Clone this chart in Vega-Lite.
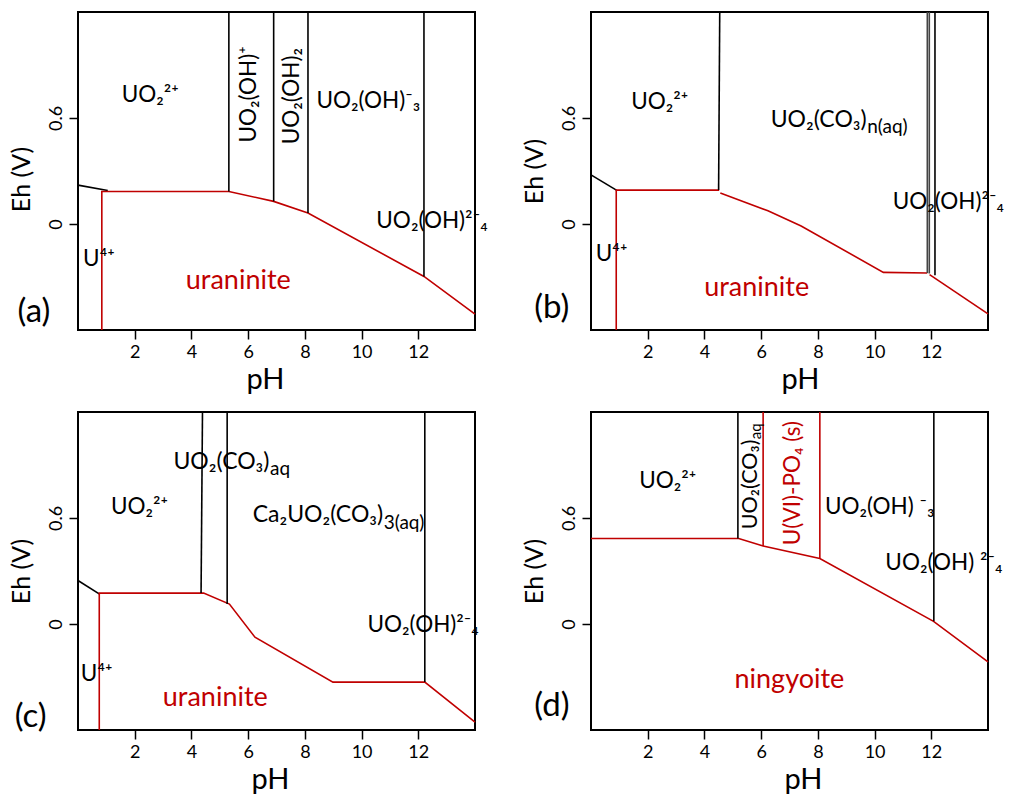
{
  "$schema": "https://vega.github.io/schema/vega-lite/v6.json",
  "background": "white",
  "padding": {"left": 8, "top": 7, "right": 0, "bottom": 0},
  "datasets": {
    "rows": [
      {"p":"a","g":"line","s":"a1","ph":"aq","i":0,"pH":0,"Eh":0.22},
      {"p":"a","g":"line","s":"a1","ph":"aq","i":1,"pH":1.05,"Eh":0.19},
      {"p":"a","g":"line","s":"a2","ph":"solid","i":0,"pH":0.84,"Eh":-0.6},
      {"p":"a","g":"line","s":"a2","ph":"solid","i":1,"pH":0.84,"Eh":0.184},
      {"p":"a","g":"line","s":"a2","ph":"solid","i":2,"pH":5.32,"Eh":0.184},
      {"p":"a","g":"line","s":"a2","ph":"solid","i":3,"pH":6.9,"Eh":0.128},
      {"p":"a","g":"line","s":"a2","ph":"solid","i":4,"pH":8.11,"Eh":0.062},
      {"p":"a","g":"line","s":"a2","ph":"solid","i":5,"pH":12.2,"Eh":-0.297},
      {"p":"a","g":"line","s":"a2","ph":"solid","i":6,"pH":14,"Eh":-0.51},
      {"p":"a","g":"line","s":"a3","ph":"aq","i":0,"pH":5.32,"Eh":0.184},
      {"p":"a","g":"line","s":"a3","ph":"aq","i":1,"pH":5.32,"Eh":1.2},
      {"p":"a","g":"line","s":"a4","ph":"aq","i":0,"pH":6.9,"Eh":0.128},
      {"p":"a","g":"line","s":"a4","ph":"aq","i":1,"pH":6.9,"Eh":1.2},
      {"p":"a","g":"line","s":"a5","ph":"aq","i":0,"pH":8.11,"Eh":0.062},
      {"p":"a","g":"line","s":"a5","ph":"aq","i":1,"pH":8.11,"Eh":1.2},
      {"p":"a","g":"line","s":"a6","ph":"aq","i":0,"pH":12.2,"Eh":-0.297},
      {"p":"a","g":"line","s":"a6","ph":"aq","i":1,"pH":12.2,"Eh":1.2},

      {"p":"b","g":"line","s":"b1","ph":"aq","i":0,"pH":0,"Eh":0.278},
      {"p":"b","g":"line","s":"b1","ph":"aq","i":1,"pH":0.91,"Eh":0.19},
      {"p":"b","g":"line","s":"b2","ph":"solid","i":0,"pH":0.89,"Eh":-0.6},
      {"p":"b","g":"line","s":"b2","ph":"solid","i":1,"pH":0.89,"Eh":0.192},
      {"p":"b","g":"line","s":"b2","ph":"solid","i":2,"pH":4.52,"Eh":0.192},
      {"p":"b","g":"line","s":"b3","ph":"aq","i":0,"pH":4.5,"Eh":0.192},
      {"p":"b","g":"line","s":"b3","ph":"aq","i":1,"pH":4.54,"Eh":1.2},
      {"p":"b","g":"line","s":"b4","ph":"solid","i":0,"pH":4.56,"Eh":0.176},
      {"p":"b","g":"line","s":"b4","ph":"solid","i":1,"pH":6.24,"Eh":0.075},
      {"p":"b","g":"line","s":"b4","ph":"solid","i":2,"pH":7.41,"Eh":-0.011},
      {"p":"b","g":"line","s":"b4","ph":"solid","i":3,"pH":10.31,"Eh":-0.274},
      {"p":"b","g":"line","s":"b4","ph":"solid","i":4,"pH":11.86,"Eh":-0.277},
      {"p":"b","g":"line","s":"b5","ph":"aq2","i":0,"pH":11.86,"Eh":-0.277},
      {"p":"b","g":"line","s":"b5","ph":"aq2","i":1,"pH":11.86,"Eh":1.2},
      {"p":"b","g":"line","s":"b6","ph":"aq2","i":0,"pH":11.93,"Eh":-0.28},
      {"p":"b","g":"line","s":"b6","ph":"aq2","i":1,"pH":11.93,"Eh":1.2},
      {"p":"b","g":"line","s":"b7","ph":"aq","i":0,"pH":12.13,"Eh":-0.29},
      {"p":"b","g":"line","s":"b7","ph":"aq","i":1,"pH":12.13,"Eh":1.2},
      {"p":"b","g":"line","s":"b8","ph":"solid","i":0,"pH":11.94,"Eh":-0.287},
      {"p":"b","g":"line","s":"b8","ph":"solid","i":1,"pH":14,"Eh":-0.509},

      {"p":"c","g":"line","s":"c1","ph":"aq","i":0,"pH":0,"Eh":0.246},
      {"p":"c","g":"line","s":"c1","ph":"aq","i":1,"pH":0.76,"Eh":0.169},
      {"p":"c","g":"line","s":"c2","ph":"solid","i":0,"pH":0.75,"Eh":-0.6},
      {"p":"c","g":"line","s":"c2","ph":"solid","i":1,"pH":0.75,"Eh":0.175},
      {"p":"c","g":"line","s":"c2","ph":"solid","i":2,"pH":4.43,"Eh":0.175},
      {"p":"c","g":"line","s":"c2","ph":"solid","i":3,"pH":5.34,"Eh":0.113},
      {"p":"c","g":"line","s":"c2","ph":"solid","i":4,"pH":6.24,"Eh":-0.075},
      {"p":"c","g":"line","s":"c2","ph":"solid","i":5,"pH":8.99,"Eh":-0.329},
      {"p":"c","g":"line","s":"c2","ph":"solid","i":6,"pH":12.23,"Eh":-0.329},
      {"p":"c","g":"line","s":"c2","ph":"solid","i":7,"pH":14,"Eh":-0.555},
      {"p":"c","g":"line","s":"c3","ph":"aq","i":0,"pH":4.34,"Eh":0.175},
      {"p":"c","g":"line","s":"c3","ph":"aq","i":1,"pH":4.39,"Eh":1.2},
      {"p":"c","g":"line","s":"c4","ph":"aq","i":0,"pH":5.26,"Eh":0.113},
      {"p":"c","g":"line","s":"c4","ph":"aq","i":1,"pH":5.26,"Eh":1.2},
      {"p":"c","g":"line","s":"c5","ph":"aq","i":0,"pH":12.23,"Eh":-0.329},
      {"p":"c","g":"line","s":"c5","ph":"aq","i":1,"pH":12.23,"Eh":1.2},

      {"p":"d","g":"line","s":"d1","ph":"solid","i":0,"pH":0,"Eh":0.484},
      {"p":"d","g":"line","s":"d1","ph":"solid","i":1,"pH":5.21,"Eh":0.484},
      {"p":"d","g":"line","s":"d1","ph":"solid","i":2,"pH":6.07,"Eh":0.441},
      {"p":"d","g":"line","s":"d1","ph":"solid","i":3,"pH":8.07,"Eh":0.371},
      {"p":"d","g":"line","s":"d1","ph":"solid","i":4,"pH":12.08,"Eh":0.015},
      {"p":"d","g":"line","s":"d1","ph":"solid","i":5,"pH":14,"Eh":-0.214},
      {"p":"d","g":"line","s":"d2","ph":"aq","i":0,"pH":5.18,"Eh":0.484},
      {"p":"d","g":"line","s":"d2","ph":"aq","i":1,"pH":5.18,"Eh":1.2},
      {"p":"d","g":"line","s":"d3","ph":"solid","i":0,"pH":6.07,"Eh":0.441},
      {"p":"d","g":"line","s":"d3","ph":"solid","i":1,"pH":6.07,"Eh":1.2},
      {"p":"d","g":"line","s":"d4","ph":"solid","i":0,"pH":8.07,"Eh":0.371},
      {"p":"d","g":"line","s":"d4","ph":"solid","i":1,"pH":8.07,"Eh":1.2},
      {"p":"d","g":"line","s":"d5","ph":"aq","i":0,"pH":12.09,"Eh":0.015},
      {"p":"d","g":"line","s":"d5","ph":"aq","i":1,"pH":12.09,"Eh":1.2},

      {"p":"a","g":"label","k":"h","ph":"aq","pH":1.54,"Eh":0.69,"t":"UO₂²⁺"},
      {"p":"a","g":"label","k":"v","ph":"aq","pH":6.28,"Eh":0.461,"t":"UO₂(OH)⁺"},
      {"p":"a","g":"label","k":"v","ph":"aq","pH":7.79,"Eh":0.451,"t":"UO₂(OH)₂"},
      {"p":"a","g":"label","k":"h","ph":"aq","pH":8.41,"Eh":0.655,"t":"UO₂(OH)⁻₃"},
      {"p":"a","g":"label","k":"h","ph":"aq","pH":10.52,"Eh":-0.02,"t":"UO₂(OH)²⁻₄"},
      {"p":"a","g":"label","k":"h","ph":"aq","pH":0.18,"Eh":-0.235,"t":"U⁴⁺"},
      {"p":"a","g":"label","k":"m","ph":"solid","pH":3.8,"Eh":-0.367,"t":"uraninite"},
      {"p":"a","g":"label","k":"panel","ph":"aq","pH":-2.13,"Eh":-0.555,"t":"(a)"},

      {"p":"b","g":"label","k":"h","ph":"aq","pH":1.42,"Eh":0.65,"t":"UO₂²⁺"},
      {"p":"b","g":"label","k":"hr","ph":"aq","pH":9.72,"Eh":0.547,"t":"UO₂(CO₃)"},
      {"p":"b","g":"label","k":"hs","ph":"aq","pH":9.74,"Eh":0.515,"t":"n(aq)"},
      {"p":"b","g":"label","k":"h","ph":"aq","pH":10.64,"Eh":0.085,"t":"UO₂(OH)²⁻₄"},
      {"p":"b","g":"label","k":"h","ph":"aq","pH":0.17,"Eh":-0.21,"t":"U⁴⁺"},
      {"p":"b","g":"label","k":"m","ph":"solid","pH":3.99,"Eh":-0.405,"t":"uraninite"},
      {"p":"b","g":"label","k":"panel","ph":"aq","pH":-2.0,"Eh":-0.53,"t":"(b)"},

      {"p":"c","g":"label","k":"hr","ph":"aq","pH":6.75,"Eh":0.88,"t":"UO₂(CO₃)"},
      {"p":"c","g":"label","k":"hs","ph":"aq","pH":6.77,"Eh":0.846,"t":"aq"},
      {"p":"c","g":"label","k":"h","ph":"aq","pH":1.16,"Eh":0.62,"t":"UO₂²⁺"},
      {"p":"c","g":"label","k":"hr","ph":"aq","pH":10.76,"Eh":0.58,"t":"Ca₂UO₂(CO₃)"},
      {"p":"c","g":"label","k":"hs","ph":"aq","pH":10.78,"Eh":0.54,"t":"3(aq)"},
      {"p":"c","g":"label","k":"h","ph":"aq","pH":10.21,"Eh":-0.045,"t":"UO₂(OH)²⁻₄"},
      {"p":"c","g":"label","k":"h","ph":"aq","pH":0.1,"Eh":-0.32,"t":"U⁴⁺"},
      {"p":"c","g":"label","k":"m","ph":"solid","pH":2.99,"Eh":-0.465,"t":"uraninite"},
      {"p":"c","g":"label","k":"panel","ph":"aq","pH":-2.23,"Eh":-0.583,"t":"(c)"},

      {"p":"d","g":"label","k":"h","ph":"aq","pH":1.7,"Eh":0.77,"t":"UO₂²⁺"},
      {"p":"d","g":"label","k":"vr","ph":"aq","pH":5.87,"Eh":1.044,"t":"UO₂(CO₃)"},
      {"p":"d","g":"label","k":"vs","ph":"aq","pH":6.0,"Eh":1.046,"t":"aq"},
      {"p":"d","g":"label","k":"v","ph":"solid","pH":7.37,"Eh":0.446,"t":"U(VI)-PO₄ (s)"},
      {"p":"d","g":"label","k":"h","ph":"aq","pH":8.25,"Eh":0.62,"t":"UO₂(OH) ⁻₃"},
      {"p":"d","g":"label","k":"h","ph":"aq","pH":10.38,"Eh":0.306,"t":"UO₂(OH) ²⁻₄"},
      {"p":"d","g":"label","k":"m","ph":"solid","pH":5.06,"Eh":-0.364,"t":"ningyoite"},
      {"p":"d","g":"label","k":"panel","ph":"aq","pH":-2.0,"Eh":-0.52,"t":"(d)"}
    ]
  },
  "columns": 2,
  "spacing": {"row": 82, "column": 116},
  "bounds": "flush",
  "concat": [
    {
      "data": {"name": "rows"},
      "transform": [{"filter": "datum.p == 'a'"}],
      "width": 397, "height": 318,
      "encoding": {
        "x": {"field": "pH", "type": "quantitative", "scale": {"domain": [0, 14], "nice": false, "zero": false},
              "axis": {"values": [2, 4, 6, 8, 10, 12], "title": "pH", "titleX": 187}},
        "y": {"field": "Eh", "type": "quantitative", "scale": {"domain": [-0.6, 1.2], "nice": false, "zero": false},
              "axis": {"values": [0, 0.6], "format": "~g", "title": "Eh (V)", "titleY": 167}}
      },
      "layer": [
        {"transform": [{"filter": "datum.g == 'line'"}], "mark": {"type": "line", "strokeWidth": 1.6},
         "encoding": {"detail": {"field": "s"}, "order": {"field": "i", "type": "quantitative"},
                      "color": {"field": "ph", "type": "nominal", "legend": null, "scale": {"domain": ["aq", "solid", "aq2"], "range": ["#000000", "#c00000", "#444444"]}}}},
        {"transform": [{"filter": "datum.k == 'h'"}], "mark": {"type": "text", "align": "left", "baseline": "alphabetic", "font": "Lato", "fontSize": 22.5},
         "encoding": {"text": {"field": "t"}, "color": {"field": "ph", "type": "nominal", "legend": null}}},
        {"transform": [{"filter": "datum.k == 'm'"}], "mark": {"type": "text", "align": "left", "baseline": "alphabetic", "font": "Lato", "fontSize": 27},
         "encoding": {"text": {"field": "t"}, "color": {"field": "ph", "type": "nominal", "legend": null}}},
        {"transform": [{"filter": "datum.k == 'v'"}], "mark": {"type": "text", "align": "left", "baseline": "alphabetic", "angle": 270, "font": "Lato", "fontSize": 22.5},
         "encoding": {"text": {"field": "t"}, "color": {"field": "ph", "type": "nominal", "legend": null}}},
        {"transform": [{"filter": "datum.k == 'panel'"}], "mark": {"type": "text", "align": "left", "baseline": "alphabetic", "font": "Lato", "fontSize": 33},
         "encoding": {"text": {"field": "t"}, "color": {"field": "ph", "type": "nominal", "legend": null}}}
      ]
    },
    {
      "data": {"name": "rows"},
      "transform": [{"filter": "datum.p == 'b'"}],
      "width": 397, "height": 318,
      "encoding": {
        "x": {"field": "pH", "type": "quantitative", "scale": {"domain": [0, 14], "nice": false, "zero": false},
              "axis": {"values": [2, 4, 6, 8, 10, 12], "title": "pH", "titleX": 209}},
        "y": {"field": "Eh", "type": "quantitative", "scale": {"domain": [-0.6, 1.2], "nice": false, "zero": false},
              "axis": {"values": [0, 0.6], "format": "~g", "title": "Eh (V)"}}
      },
      "layer": [
        {"transform": [{"filter": "datum.g == 'line'"}], "mark": {"type": "line", "strokeWidth": 1.6},
         "encoding": {"detail": {"field": "s"}, "order": {"field": "i", "type": "quantitative"},
                      "color": {"field": "ph", "type": "nominal", "legend": null, "scale": {"domain": ["aq", "solid", "aq2"], "range": ["#000000", "#c00000", "#444444"]}}}},
        {"transform": [{"filter": "datum.k == 'h'"}], "mark": {"type": "text", "align": "left", "baseline": "alphabetic", "font": "Lato", "fontSize": 22.5},
         "encoding": {"text": {"field": "t"}, "color": {"field": "ph", "type": "nominal", "legend": null}}},
        {"transform": [{"filter": "datum.k == 'hr'"}], "mark": {"type": "text", "align": "right", "baseline": "alphabetic", "font": "Lato", "fontSize": 23},
         "encoding": {"text": {"field": "t"}, "color": {"field": "ph", "type": "nominal", "legend": null}}},
        {"transform": [{"filter": "datum.k == 'm'"}], "mark": {"type": "text", "align": "left", "baseline": "alphabetic", "font": "Lato", "fontSize": 27},
         "encoding": {"text": {"field": "t"}, "color": {"field": "ph", "type": "nominal", "legend": null}}},
        {"transform": [{"filter": "datum.k == 'hs'"}], "mark": {"type": "text", "align": "left", "baseline": "alphabetic", "font": "Lato", "fontSize": 19},
         "encoding": {"text": {"field": "t"}, "color": {"field": "ph", "type": "nominal", "legend": null}}},
        {"transform": [{"filter": "datum.k == 'panel'"}], "mark": {"type": "text", "align": "left", "baseline": "alphabetic", "font": "Lato", "fontSize": 33},
         "encoding": {"text": {"field": "t"}, "color": {"field": "ph", "type": "nominal", "legend": null}}}
      ]
    },
    {
      "data": {"name": "rows"},
      "transform": [{"filter": "datum.p == 'c'"}],
      "width": 397, "height": 318,
      "encoding": {
        "x": {"field": "pH", "type": "quantitative", "scale": {"domain": [0, 14], "nice": false, "zero": false},
              "axis": {"values": [2, 4, 6, 8, 10, 12], "title": "pH", "titleX": 192}},
        "y": {"field": "Eh", "type": "quantitative", "scale": {"domain": [-0.6, 1.2], "nice": false, "zero": false},
              "axis": {"values": [0, 0.6], "format": "~g", "title": "Eh (V)"}}
      },
      "layer": [
        {"transform": [{"filter": "datum.g == 'line'"}], "mark": {"type": "line", "strokeWidth": 1.6},
         "encoding": {"detail": {"field": "s"}, "order": {"field": "i", "type": "quantitative"},
                      "color": {"field": "ph", "type": "nominal", "legend": null, "scale": {"domain": ["aq", "solid", "aq2"], "range": ["#000000", "#c00000", "#444444"]}}}},
        {"transform": [{"filter": "datum.k == 'h'"}], "mark": {"type": "text", "align": "left", "baseline": "alphabetic", "font": "Lato", "fontSize": 22.5},
         "encoding": {"text": {"field": "t"}, "color": {"field": "ph", "type": "nominal", "legend": null}}},
        {"transform": [{"filter": "datum.k == 'hr'"}], "mark": {"type": "text", "align": "right", "baseline": "alphabetic", "font": "Lato", "fontSize": 23},
         "encoding": {"text": {"field": "t"}, "color": {"field": "ph", "type": "nominal", "legend": null}}},
        {"transform": [{"filter": "datum.k == 'm'"}], "mark": {"type": "text", "align": "left", "baseline": "alphabetic", "font": "Lato", "fontSize": 27},
         "encoding": {"text": {"field": "t"}, "color": {"field": "ph", "type": "nominal", "legend": null}}},
        {"transform": [{"filter": "datum.k == 'hs'"}], "mark": {"type": "text", "align": "left", "baseline": "alphabetic", "font": "Lato", "fontSize": 19},
         "encoding": {"text": {"field": "t"}, "color": {"field": "ph", "type": "nominal", "legend": null}}},
        {"transform": [{"filter": "datum.k == 'panel'"}], "mark": {"type": "text", "align": "left", "baseline": "alphabetic", "font": "Lato", "fontSize": 33},
         "encoding": {"text": {"field": "t"}, "color": {"field": "ph", "type": "nominal", "legend": null}}}
      ]
    },
    {
      "data": {"name": "rows"},
      "transform": [{"filter": "datum.p == 'd'"}],
      "width": 397, "height": 318,
      "encoding": {
        "x": {"field": "pH", "type": "quantitative", "scale": {"domain": [0, 14], "nice": false, "zero": false},
              "axis": {"values": [2, 4, 6, 8, 10, 12], "title": "pH", "titleX": 212}},
        "y": {"field": "Eh", "type": "quantitative", "scale": {"domain": [-0.6, 1.2], "nice": false, "zero": false},
              "axis": {"values": [0, 0.6], "format": "~g", "title": "Eh (V)"}}
      },
      "layer": [
        {"transform": [{"filter": "datum.g == 'line'"}], "mark": {"type": "line", "strokeWidth": 1.6},
         "encoding": {"detail": {"field": "s"}, "order": {"field": "i", "type": "quantitative"},
                      "color": {"field": "ph", "type": "nominal", "legend": null, "scale": {"domain": ["aq", "solid", "aq2"], "range": ["#000000", "#c00000", "#444444"]}}}},
        {"transform": [{"filter": "datum.k == 'h'"}], "mark": {"type": "text", "align": "left", "baseline": "alphabetic", "font": "Lato", "fontSize": 22.5},
         "encoding": {"text": {"field": "t"}, "color": {"field": "ph", "type": "nominal", "legend": null}}},
        {"transform": [{"filter": "datum.k == 'm'"}], "mark": {"type": "text", "align": "left", "baseline": "alphabetic", "font": "Lato", "fontSize": 27},
         "encoding": {"text": {"field": "t"}, "color": {"field": "ph", "type": "nominal", "legend": null}}},
        {"transform": [{"filter": "datum.k == 'v'"}], "mark": {"type": "text", "align": "left", "baseline": "alphabetic", "angle": 270, "font": "Lato", "fontSize": 22.5},
         "encoding": {"text": {"field": "t"}, "color": {"field": "ph", "type": "nominal", "legend": null}}},
        {"transform": [{"filter": "datum.k == 'vr'"}], "mark": {"type": "text", "align": "right", "baseline": "alphabetic", "angle": 270, "font": "Lato", "fontSize": 21.5},
         "encoding": {"text": {"field": "t"}, "color": {"field": "ph", "type": "nominal", "legend": null}}},
        {"transform": [{"filter": "datum.k == 'vs'"}], "mark": {"type": "text", "align": "left", "baseline": "alphabetic", "angle": 270, "font": "Lato", "fontSize": 15},
         "encoding": {"text": {"field": "t"}, "color": {"field": "ph", "type": "nominal", "legend": null}}},
        {"transform": [{"filter": "datum.k == 'panel'"}], "mark": {"type": "text", "align": "left", "baseline": "alphabetic", "font": "Lato", "fontSize": 33},
         "encoding": {"text": {"field": "t"}, "color": {"field": "ph", "type": "nominal", "legend": null}}}
      ]
    }
  ],
  "config": {
    "view": {"stroke": "#000000", "strokeWidth": 2},
    "axis": {
      "domain": false, "grid": false,
      "tickSize": 9, "tickColor": "#000000", "tickWidth": 1.5,
      "labelFont": "Lato", "labelFontSize": 18, "labelColor": "#000000", "labelPadding": 4,
      "titleFont": "Lato", "titleFontSize": 29, "titleFontWeight": "normal", "titleColor": "#000000"
    },
    "axisX": {"titlePadding": 4},
    "axisY": {"labelAngle": 270, "labelAlign": "center", "labelBaseline": "bottom", "titlePadding": 13, "titleFontSize": 25}
  }
}
